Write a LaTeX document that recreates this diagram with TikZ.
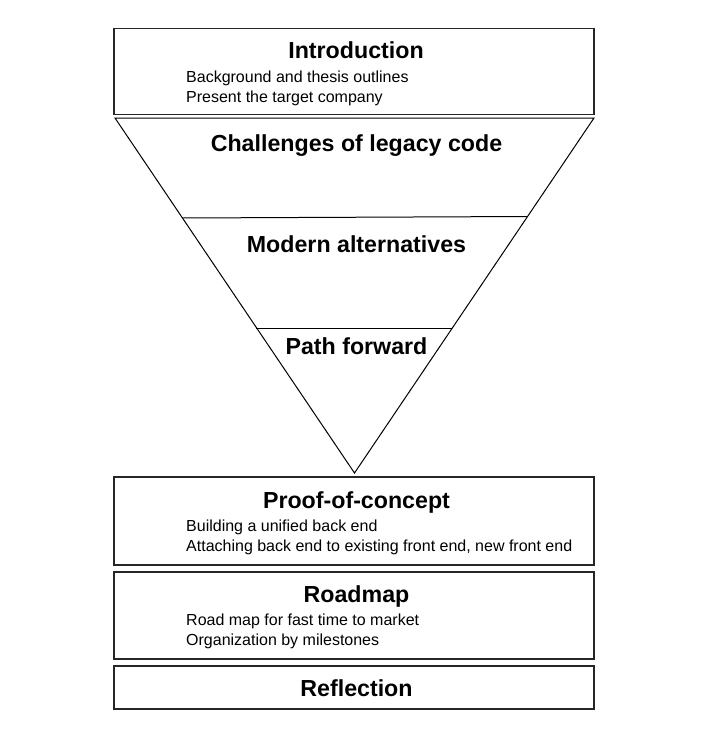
\documentclass[tikz,border=0pt]{standalone}
\usepackage{fontspec}
\setmainfont{Liberation Sans}
\begin{document}
\begin{tikzpicture}[x=1pt,y=-1pt,
  box/.style={draw=black!85, line width=1.3pt, inner sep=0pt, minimum width=480pt},
  ttl/.style={font=\fontsize{23.2}{28}\selectfont\bfseries, anchor=base, inner sep=0pt},
  txt/.style={font=\fontsize{16}{19}\selectfont, anchor=base west, inner sep=0pt},
  tri/.style={draw=black, line width=1pt, line join=miter}]
\useasboundingbox (0,0) rectangle (712,742);
% boxes
\node[box, minimum height=86pt] (intro) at (354,71.5) {};
\node[box, minimum height=88pt] (proof) at (354,521) {};
\node[box, minimum height=87pt] (road) at (354,615.5) {};
\node[box, minimum height=43pt] (refl) at (354,687.5) {};
% funnel
\coordinate (tl) at (115,118);
\coordinate (tr) at (594,118);
\coordinate (ap) at (354.5,473);
\coordinate (l1) at (182.3,218);
\coordinate (r1) at (527.4,216.5);
\coordinate (l2) at (256.4,328);
\coordinate (r2) at (452,328);
\draw[tri] (tl) -- (tr) -- (ap) -- cycle;
\draw[tri] (l1) -- (r1);
\draw[tri] (l2) -- (r2);
% texts
\node[ttl] (t1) at (356,58) {Introduction};
\node[txt] (b1) at (186,82) {Background and thesis outlines};
\node[txt] (b2) at (186,102) {Present the target company};
\node[ttl] (t2) at (356.5,151) {Challenges of legacy code};
\node[ttl] (t3) at (356.5,252) {Modern alternatives};
\node[ttl] (t4) at (356.5,354) {Path forward};
\node[ttl] (t5) at (356.5,508) {Proof-of-concept};
\node[txt] (b3) at (186,531) {Building a unified back end};
\node[txt] (b4) at (186,551) {Attaching back end to existing front end, new front end};
\node[ttl] (t6) at (356.5,602) {Roadmap};
\node[txt] (b5) at (186,625) {Road map for fast time to market};
\node[txt] (b6) at (186,645) {Organization by milestones};
\node[ttl] (t7) at (356.5,696) {Reflection};
\end{tikzpicture}
\end{document}
